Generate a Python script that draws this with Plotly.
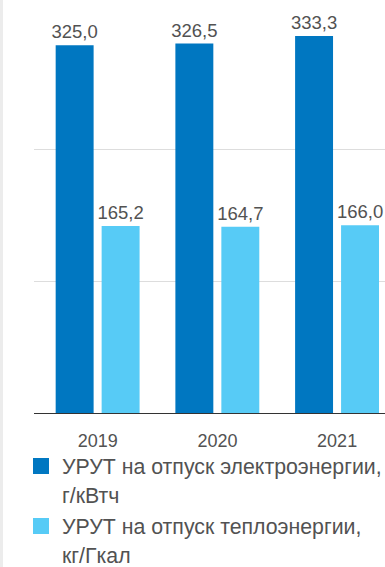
import plotly.graph_objects as go

# Данные: удельный расход условного топлива по годам
years = ["2019", "2020", "2021"]
electricity = [325.0, 326.5, 333.3]   # г/кВтч
heat = [165.2, 164.7, 166.0]          # кг/Гкал

legend_lines = [
    ["УРУТ на отпуск электроэнергии,", "г/кВтч"],
    ["УРУТ на отпуск теплоэнергии,", "кг/Гкал"],
]

DARK = "#0077c1"
LIGHT = "#57cbf6"
TEXT = "#525252"
FONT = "Liberation Sans, Arial, sans-serif"

W, H = 385, 567
ML, MR, MT, MB = 34, 0, 17, 154
PW, PH = W - ML - MR, H - MT - MB

x_idx = list(range(len(years)))

fig = go.Figure()
for vals, color, off in [(electricity, DARK, -0.351), (heat, LIGHT, 0.033)]:
    fig.add_trace(go.Bar(
        x=x_idx, y=vals, marker_color=color, marker_line_width=0,
        offset=off, width=0.317,
        texttemplate="%{y:.1f}", textposition="outside",
        constraintext="none",
        textfont=dict(size=18.5, color=TEXT, family=FONT),
        cliponaxis=False, showlegend=False,
    ))


def px_x(p):
    return (p - ML) / PW


def px_y(p):
    return (H - MB - p) / PH


shapes = [
    # светло-серая полоса у левого края страницы
    dict(type="rect", xref="paper", yref="paper",
         x0=px_x(0), x1=px_x(3), y0=px_y(H), y1=px_y(0),
         fillcolor="#ececec", line_width=0, layer="below"),
]
annotations = []
colors = [DARK, LIGHT]
square_centers = [466, 526]
for i, lines in enumerate(legend_lines):
    cy = square_centers[i]
    shapes.append(dict(type="rect", xref="paper", yref="paper",
                       x0=px_x(33), x1=px_x(49), y0=px_y(cy + 8), y1=px_y(cy - 8),
                       fillcolor=colors[i], line_width=0))
    for j, line in enumerate(lines):
        annotations.append(dict(
            xref="paper", yref="paper", x=px_x(60), y=px_y(cy + 1 + 29 * j),
            xanchor="left", yanchor="middle", text=line, showarrow=False,
            font=dict(size=21.3, color=TEXT, family=FONT),
        ))

fig.update_layout(
    width=W, height=H,
    margin=dict(l=ML, r=MR, t=MT, b=MB, pad=0),
    paper_bgcolor="white", plot_bgcolor="white",
    barmode="overlay",
    separators=", ",
    font=dict(family=FONT, color=TEXT, size=18),
    shapes=shapes,
    annotations=annotations,
    xaxis=dict(
        range=[-0.532, 2.40], tickvals=x_idx, ticktext=years,
        showgrid=False, zeroline=False,
        showline=True, linecolor="#333333", linewidth=1,
        ticks="", ticklabelstandoff=11,
        tickfont=dict(size=18, color=TEXT, family=FONT),
    ),
    yaxis=dict(
        range=[0, 350], tickvals=[350 / 3, 700 / 3, 350],
        showticklabels=False, showgrid=True, gridcolor="#dddddd", gridwidth=1,
        zeroline=False, showline=False,
    ),
)

fig.write_html("out.html")
